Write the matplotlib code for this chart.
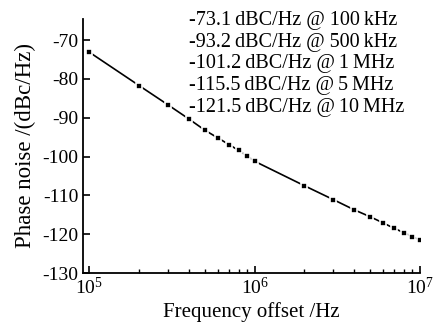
import matplotlib

matplotlib.use("Agg")
import matplotlib.pyplot as plt
from matplotlib.ticker import LogLocator, NullFormatter

# offset frequency [Hz] and measured phase noise [dBc/Hz]
freq = [1e5, 2e5, 3e5, 4e5, 5e5, 6e5, 7e5, 8e5, 9e5,
        1e6, 2e6, 3e6, 4e6, 5e6, 6e6, 7e6, 8e6, 9e6, 1e7]
noise = [-73.1, -81.7, -86.7, -90.3, -93.2, -95.2, -96.9, -98.4, -99.8,
         -101.2, -107.5, -111.1, -113.7, -115.5, -117.1, -118.5, -119.6, -120.6, -121.5]

notes = [
    "-73.1\u2009dBC/Hz @ 100\u2009kHz",
    "-93.2\u2009dBC/Hz @ 500\u2009kHz",
    "-101.2\u2009dBC/Hz @\u20091\u2009MHz",
    "-115.5\u2009dBC/Hz @\u20095\u2009MHz",
    "-121.5\u2009dBC/Hz @\u200910\u2009MHz",
]
yticks = [-130, -120, -110, -100, -90, -80, -70]

plt.rcParams["font.family"] = ["Liberation Serif", "DejaVu Serif"]
plt.rcParams["mathtext.fontset"] = "custom"
plt.rcParams["mathtext.rm"] = "Liberation Serif"
plt.rcParams["mathtext.it"] = "Liberation Serif:italic"

fig = plt.figure(figsize=(4.36, 3.25), dpi=100)
ax = fig.add_axes([0.19, 0.16, 0.773, 0.782])

ax.semilogx(freq, noise, color="black", linewidth=1.2, marker="s",
            markersize=4.3, markerfacecolor="black", markeredgecolor="white",
            markeredgewidth=1.2)

ax.set_xlim(91300, 1e7)
ax.set_ylim(-130, -64.5)
ax.set_yticks(yticks)
ax.set_yticklabels([str(v) for v in yticks])
ax.xaxis.set_major_locator(LogLocator(base=10, numticks=10))
ax.xaxis.set_minor_locator(LogLocator(base=10, subs=range(2, 10), numticks=30))
ax.xaxis.set_minor_formatter(NullFormatter())

for side in ("top", "right"):
    ax.spines[side].set_visible(False)
for side in ("left", "bottom"):
    ax.spines[side].set_linewidth(1.3)

ax.tick_params(axis="both", which="major", direction="in", length=5, width=1.2,
               labelsize=14, pad=3)
ax.tick_params(axis="x", which="minor", direction="in", length=3, width=1.0)
ax.tick_params(axis="y", which="minor", left=False)

ax.set_xlabel("Frequency offset /Hz", fontsize=15, labelpad=3)
ax.set_ylabel("Phase noise /(dBc/Hz)", fontsize=16.5, labelpad=5)

for i, s in enumerate(notes):
    ax.text(0.315, 0.976 - i * 0.0855, s, transform=ax.transAxes, fontsize=14.5,
            ha="left", va="baseline")

fig.savefig("out.png", dpi=100)
